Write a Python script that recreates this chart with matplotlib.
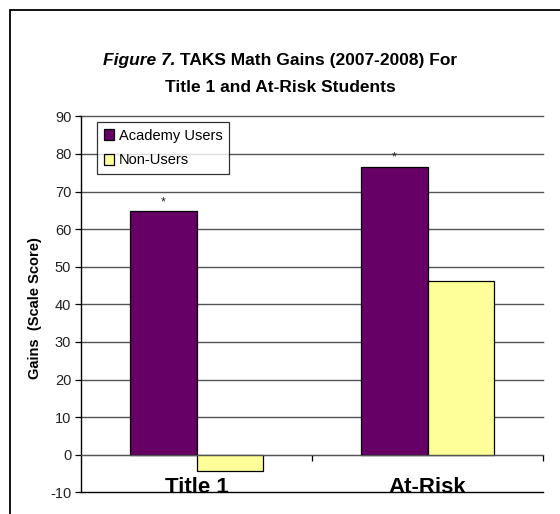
import matplotlib
matplotlib.use("Agg")
import matplotlib.pyplot as plt
from matplotlib.patches import Rectangle
import numpy as np

plt.rcParams['font.family'] = ['Liberation Sans', 'DejaVu Sans']

# data
categories = ['Title 1', 'At-Risk']
series_names = ['Academy Users', 'Non-Users']
academy = [64.8, 76.6]
non_users = [-4.4, 46.3]
star_flags = [True, True]  # asterisks above Academy Users bars
y_ticks = list(range(-10, 91, 10))

purple = '#660066'
yellow = '#FFFF99'

fig = plt.figure(figsize=(5.6, 5.14), dpi=100)
ax = fig.add_axes([81 / 560, 1 - 492.3 / 514, (543 - 81) / 560, (492.3 - 116.3) / 514])

x = np.arange(len(categories))
w = 0.29
b1 = ax.bar(x - w / 2, academy, w, color=purple, edgecolor='black', linewidth=0.9,
            label=series_names[0], zorder=3)
b2 = ax.bar(x + w / 2, non_users, w, color=yellow, edgecolor='black', linewidth=0.9,
            label=series_names[1], zorder=3)

# asterisks
for xi, v, f in zip(x, academy, star_flags):
    if f:
        ax.annotate('*', (xi - w / 2, v), xytext=(0, 2), textcoords='offset points',
                    ha='center', va='bottom', fontsize=9, color='#222222')

ax.set_xlim(-0.5, len(categories) - 0.5)
ax.set_ylim(-10, 90)
ax.set_yticks(y_ticks)
ax.set_yticklabels([str(t) for t in y_ticks], fontsize=10.5, color='#222222')
ax.tick_params(axis='y', direction='out', length=4, width=0.9, color='black', pad=3)

# grid lines
for t in y_ticks:
    col = 'black' if t == y_ticks[0] else '#555555'
    ax.axhline(t, color=col, linewidth=1.0, zorder=1, clip_on=False)

for s in ['top', 'right']:
    ax.spines[s].set_visible(False)
ax.spines['left'].set_linewidth(1.0)
ax.spines['bottom'].set_position(('data', 0))
ax.spines['bottom'].set_color('#555555')
ax.spines['bottom'].set_zorder(4)
ax.set_xticks([0.5, 1.5])
ax.set_xticklabels(['', ''])
ax.tick_params(axis='x', direction='out', length=4, width=0.9, color='black')

# category labels
for xi, c in zip(x, categories):
    ax.text(xi, -10.15, c, ha='center', va='baseline', fontsize=16,
            fontweight='bold', clip_on=False, zorder=5)

fig.text(35 / 560, 1 - 308 / 514, 'Gains  (Scale Score)', rotation=90, ha='center',
         va='center', fontsize=10.5, fontweight='bold')

# title: italic "Figure 7." followed by bold text, centred as a whole
ty = 1 - 60 / 514
full = fig.text(0.5, ty, 'Figure 7. TAKS Math Gains (2007-2008) For', ha='center',
                va='center', fontsize=12.5, fontweight='bold', alpha=0)
fig.canvas.draw()
x0 = full.get_window_extent().x0 / fig.bbox.width
ta = fig.text(x0, ty, 'Figure 7.', ha='left', va='center', fontsize=12.5,
              fontweight='bold', style='italic')
fig.canvas.draw()
fig.text(ta.get_window_extent().x1 / fig.bbox.width, ty, ' TAKS Math Gains (2007-2008) For',
         ha='left', va='center', fontsize=12.5, fontweight='bold')
fig.text(0.5, 1 - 87 / 514, 'Title 1 and At-Risk Students', ha='center', va='center',
         fontsize=12.5, fontweight='bold')

leg = fig.legend(handles=[b1, b2], loc='upper left',
                 bbox_to_anchor=(97 / 560, 1 - 122 / 514), fontsize=10.5,
                 frameon=True, fancybox=False, shadow=False, borderpad=0.45,
                 handlelength=0.7, handleheight=0.7, handletextpad=0.35,
                 labelspacing=0.75, borderaxespad=0)
leg.get_frame().set_edgecolor('black')
leg.get_frame().set_linewidth(0.9)

fig.add_artist(Rectangle((10 / 560, -0.2), 1.5, 1 - 10 / 514 + 0.2,
                         transform=fig.transFigure, fill=False, linewidth=1.3,
                         edgecolor='black'))

fig.savefig('out.png', dpi=100)
